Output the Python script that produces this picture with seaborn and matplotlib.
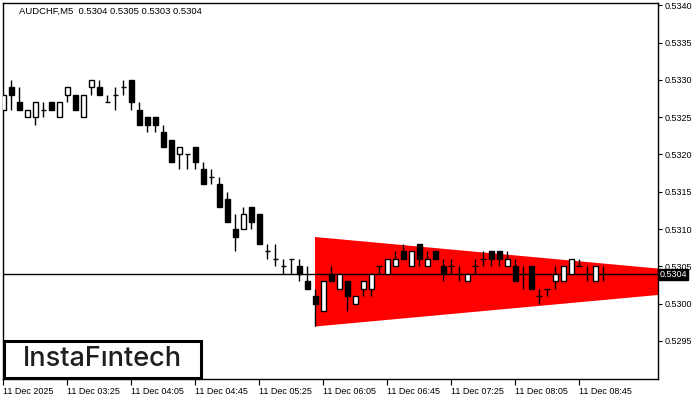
import numpy as np
import pandas as pd
import seaborn as sns
import matplotlib.pyplot as plt
from matplotlib.patches import Rectangle

# M5 candles (index 0 = first visible bar)
opens = [0.5326, 0.5329, 0.5327, 0.5325, 0.5325, 0.5326, 0.5327, 0.5325, 0.5328, 0.5328,
         0.5325, 0.5329, 0.5329, 0.5327, 0.5328, 0.5329, 0.5330, 0.5326, 0.5325, 0.5325,
         0.5323, 0.5322, 0.5320, 0.5320, 0.5321, 0.5318, 0.5317, 0.5316, 0.5314, 0.5310,
         0.5310, 0.5313, 0.5312, 0.5307, 0.5306, 0.5305, 0.5306, 0.5305, 0.5303, 0.5301,
         0.5299, 0.5304, 0.5302, 0.5303, 0.5300, 0.5302, 0.5302, 0.5305, 0.5304, 0.5305,
         0.5307, 0.5305, 0.5308, 0.5305, 0.5307, 0.5305, 0.5305, 0.5304, 0.5303, 0.5305,
         0.5306, 0.5307, 0.5307, 0.5305, 0.5305, 0.5304, 0.5305, 0.5301, 0.5302, 0.5303,
         0.5303, 0.5304, 0.5305, 0.5304, 0.5303, 0.5304]
highs = [0.5328, 0.5330, 0.5329, 0.5326, 0.5327, 0.5327, 0.5327, 0.5327, 0.5329, 0.5328,
         0.5328, 0.5330, 0.5330, 0.5328, 0.5329, 0.5330, 0.5330, 0.5327, 0.5325, 0.5325,
         0.5324, 0.5322, 0.5321, 0.5320, 0.5321, 0.5319, 0.5318, 0.5317, 0.5315, 0.5312,
         0.5313, 0.5313, 0.5312, 0.5308, 0.5308, 0.5306, 0.5306, 0.5306, 0.5305, 0.5302,
         0.5303, 0.5305, 0.5304, 0.5303, 0.5301, 0.5303, 0.5304, 0.5305, 0.5306, 0.5307,
         0.5308, 0.5307, 0.5308, 0.5307, 0.5307, 0.5306, 0.5306, 0.5305, 0.5304, 0.5306,
         0.5307, 0.5307, 0.5307, 0.5307, 0.5306, 0.5305, 0.5305, 0.5302, 0.5302, 0.5305,
         0.5305, 0.5306, 0.5306, 0.5305, 0.5305, 0.5305]
lows = [0.5326, 0.5326, 0.5326, 0.5325, 0.5324, 0.5325, 0.5326, 0.5325, 0.5327, 0.5326,
        0.5325, 0.5328, 0.5328, 0.5327, 0.5326, 0.5328, 0.5326, 0.5324, 0.5323, 0.5323,
        0.5321, 0.5319, 0.5318, 0.5318, 0.5318, 0.5316, 0.5316, 0.5313, 0.5311, 0.5307,
        0.5310, 0.5310, 0.5308, 0.5306, 0.5305, 0.5304, 0.5304, 0.5303, 0.5302, 0.5297,
        0.5299, 0.5303, 0.5302, 0.5299, 0.5300, 0.5301, 0.5301, 0.5304, 0.5304, 0.5305,
        0.5306, 0.5305, 0.5305, 0.5305, 0.5306, 0.5303, 0.5304, 0.5303, 0.5303, 0.5304,
        0.5305, 0.5305, 0.5305, 0.5305, 0.5303, 0.5302, 0.5302, 0.5300, 0.5301, 0.5302,
        0.5303, 0.5304, 0.5305, 0.5303, 0.5303, 0.5303]
closes = [0.5328, 0.5328, 0.5326, 0.5326, 0.5327, 0.5326, 0.5326, 0.5327, 0.5329, 0.5326,
          0.5328, 0.5330, 0.5328, 0.5327, 0.5328, 0.5329, 0.5327, 0.5324, 0.5324, 0.5324,
          0.5321, 0.5319, 0.5321, 0.5320, 0.5319, 0.5316, 0.5317, 0.5313, 0.5311, 0.5309,
          0.5312, 0.5311, 0.5308, 0.5307, 0.5306, 0.5305, 0.5306, 0.5304, 0.5302, 0.5300,
          0.5303, 0.5303, 0.5304, 0.5301, 0.5301, 0.5303, 0.5304, 0.5305, 0.5306, 0.5306,
          0.5306, 0.5307, 0.5306, 0.5306, 0.5306, 0.5304, 0.5305, 0.5304, 0.5304, 0.5305,
          0.5306, 0.5306, 0.5306, 0.5306, 0.5303, 0.5304, 0.5302, 0.5301, 0.5302, 0.5304,
          0.5305, 0.5306, 0.5305, 0.5304, 0.5305, 0.5304]

tick_pos = [0, 8, 16, 24, 32, 40, 48, 56, 64, 72]
tick_labels = ['11 Dec 2025', '11 Dec 03:25', '11 Dec 04:05', '11 Dec 04:45', '11 Dec 05:25',
               '11 Dec 06:05', '11 Dec 06:45', '11 Dec 07:25', '11 Dec 08:05', '11 Dec 08:45']
y_ticks = [0.5295, 0.5300, 0.5305, 0.5310, 0.5315, 0.5320, 0.5325, 0.5330, 0.5335, 0.5340]

# bearish symmetrical triangle (start / end of the red pattern)
pattern_x = [38.9, 82.5]
pattern_top = [0.5309, 0.53047]
pattern_bottom = [0.5297, 0.53013]
bid = 0.5304
title = 'AUDCHF,M5  0.5304 0.5305 0.5303 0.5304'

sns.set_theme(style='white')
plt.rcParams['font.family'] = ['Liberation Sans', 'DejaVu Sans']

df = pd.DataFrame({'open': opens, 'high': highs, 'low': lows, 'close': closes})
df['idx'] = np.arange(len(df))
up = df[df.close > df.open]
down = df[df.close < df.open]
doji = df[df.close == df.open]

fig = plt.figure(figsize=(7, 4), dpi=100)
ax = fig.add_axes([3 / 700, 1 - 379 / 400, 655 / 700, 376 / 400])

ax.fill_between(pattern_x, pattern_bottom, pattern_top, color='#ff0000', lw=0, zorder=1)
ax.axhline(bid, color='black', lw=1, zorder=1.5)

ax.vlines(df.idx, df.low, df.high, color='black', lw=1, zorder=2)
ax.bar(up.idx, up.close - up.open, bottom=up.open, width=0.6,
       facecolor='white', edgecolor='black', lw=1, zorder=3)
ax.bar(down.idx, down.open - down.close, bottom=down.close, width=0.6,
       facecolor='black', edgecolor='black', lw=1, zorder=3)
ax.hlines(doji.open, doji.idx - 0.35, doji.idx + 0.35, color='black', lw=1, zorder=3)

ax.set_xlim(-0.04, 81.84)
ax.set_ylim(0.52899, 0.53403)
ax.set_xticks(tick_pos)
ax.set_xticklabels(tick_labels, ha='left')
ax.set_yticks(y_ticks)
ax.set_yticklabels([f'{v:.4f}' for v in y_ticks])
ax.yaxis.tick_right()
ax.tick_params(axis='x', direction='out', length=4, width=0.8, pad=1.5,
               labelsize=6.5, colors='black', bottom=True)
ax.tick_params(axis='y', direction='out', length=3, width=0.8, pad=2,
               labelsize=6.5, colors='black', right=True)
for s in ax.spines.values():
    s.set_color('black')
    s.set_linewidth(1)
ax.grid(False)

ax.text(1.002, bid - 0.00001, '0.5304', transform=ax.get_yaxis_transform(), color='white',
        fontsize=6.5, va='center', ha='left', zorder=5, clip_on=False,
        bbox=dict(boxstyle='square,pad=0.12', facecolor='black', edgecolor='black'))

fig.text(19 / 700, 1 - 11 / 400, title, fontsize=6.8, va='center', ha='left', color='black')

# logo
fig.patches.append(Rectangle((3.5 / 700, 1 - 378 / 400), 197 / 700, 37 / 400,
                             transform=fig.transFigure, facecolor='white',
                             edgecolor='black', lw=2.2, zorder=10))
fig.text(102 / 700, 1 - 359.5 / 400, 'InstaFıntech', fontsize=19.5, family='Inter',
         weight='medium', color='#1e1e1e', ha='center', va='center', zorder=11)

fig.savefig('out.png', dpi=100)
